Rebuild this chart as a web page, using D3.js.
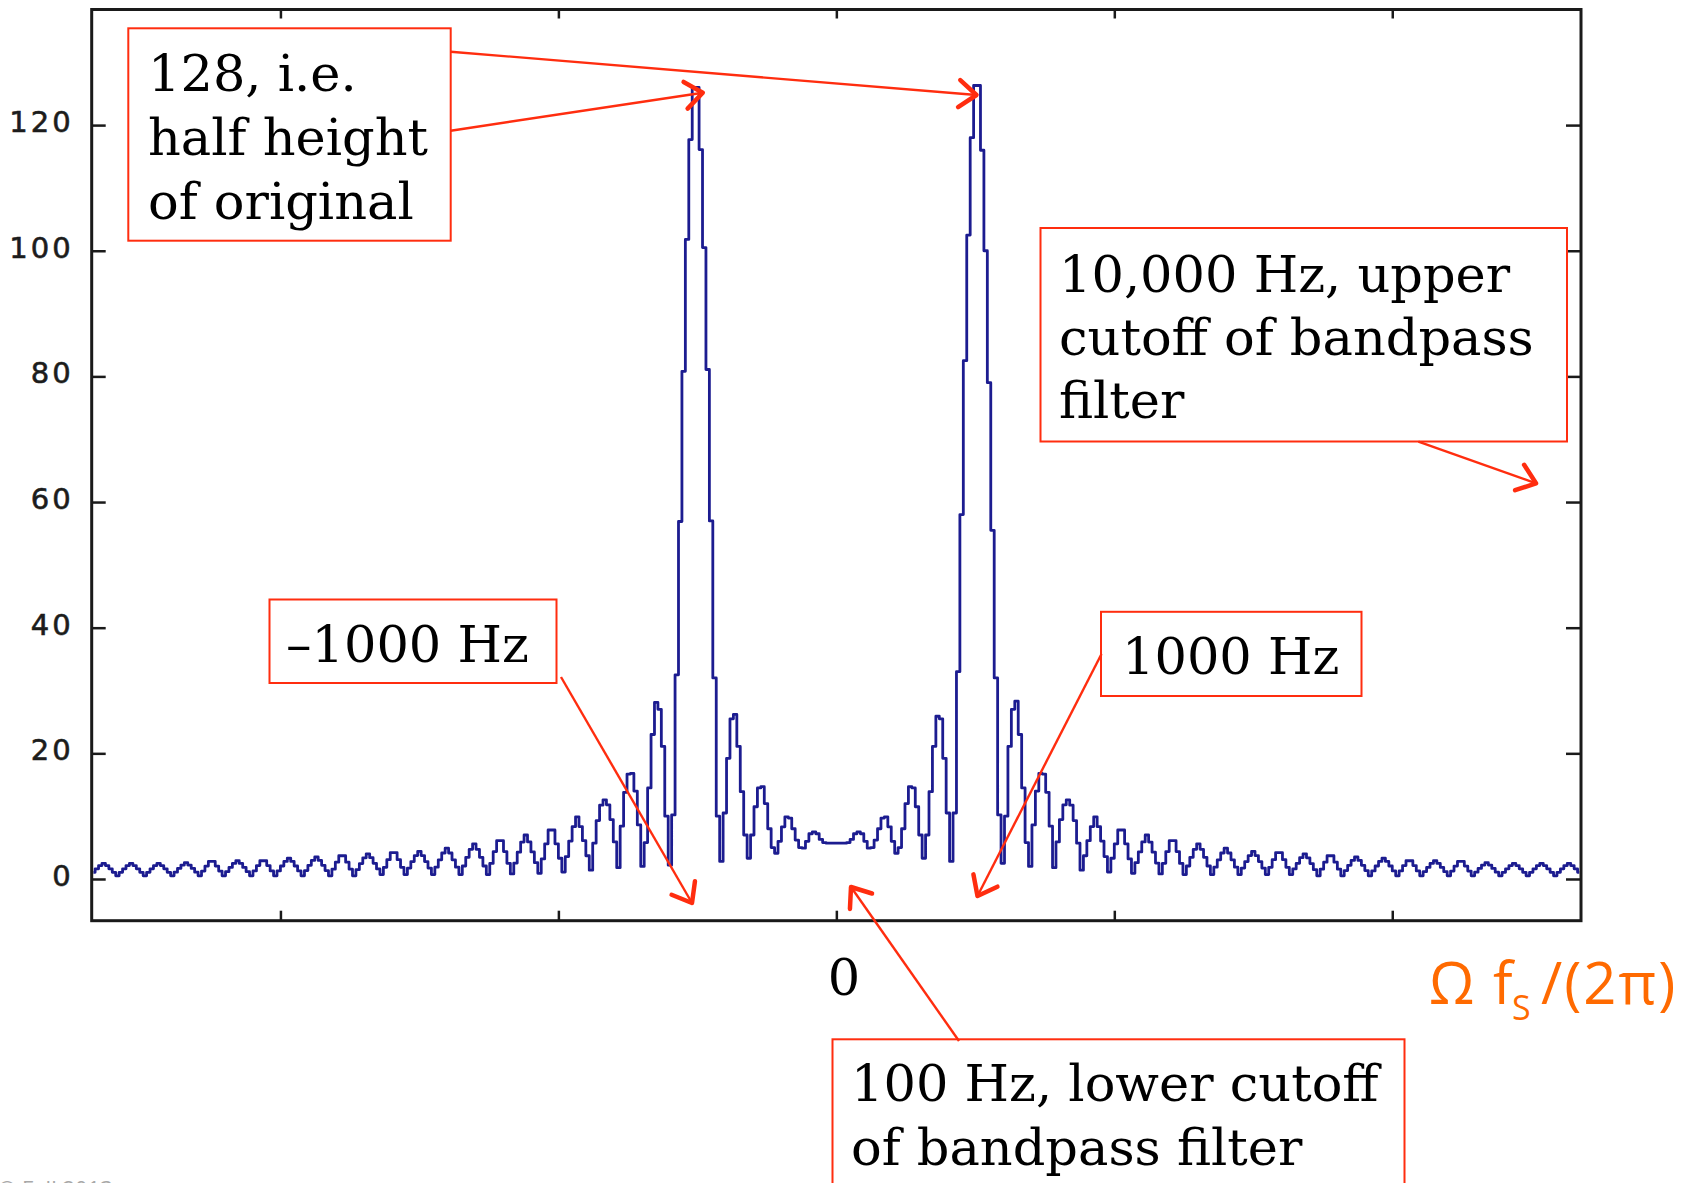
<!DOCTYPE html>
<html><head><meta charset="utf-8">
<script src="https://cdn.jsdelivr.net/npm/d3@7"></script>
<style>html,body{margin:0;padding:0;background:#fff;} svg{display:block;}</style>
</head><body>
<svg id="chart" width="1692" height="1183"></svg>
<script>
// ---- data (magnitude of the spectrum, one value per frequency bin) ----
const magnitude = [
 1.06,1.62,2.14,2.5,2.14,1.62,1.06,0.5,
 1.06,1.62,2.14,2.5,2.14,1.62,1.06,0.5,
 1.06,1.62,2.14,2.5,2.14,1.62,1.06,0.5,
 1.09,1.68,2.22,2.6,2.22,1.68,1.09,0.5,
 1.26,2.06,2.8,2.8,2.06,1.26,0.5,
 1.17,1.84,2.47,2.9,2.47,1.84,1.17,0.5,
 1.29,2.13,2.9,2.9,2.13,1.29,0.5,
 1.28,2.07,2.8,3.3,2.8,2.07,1.28,0.5,
 1.34,2.18,2.96,3.5,2.96,2.18,1.34,0.5,
 1.56,2.68,3.7,3.7,2.68,1.56,0.5,
 1.48,2.46,3.37,4.0,3.4,2.5,1.6,0.7,
 1.86,3.08,4.2,4.2,3.08,1.86,0.7,
 1.74,2.77,3.73,4.4,3.73,2.77,1.74,0.7,
 1.88,3.05,4.14,4.9,4.14,3.05,1.88,0.7,
 2.07,3.44,4.72,5.6,4.72,3.44,2.07,0.7,
 2.48,4.37,6.1,6.1,4.37,2.5,0.8,
 2.54,4.27,5.88,7.0,5.9,4.3,2.6,0.9,
 3.2,5.6,7.8,7.8,5.6,3.3,1.1,
 3.56,6.03,8.32,9.9,8.35,6.1,3.7,1.4,
 5.7,9.3,11.75,12.6,11.8,9.45,5.9,1.8,
 8.4,13.8,16.7,16.8,14.0,8.6,2.0,
 5.8,14.5,23.0,28.1,27.0,21.1,10.0,2.2,
 10.2,32.5,56.9,80.8,101.8,117.7,126,126,116.1,100.5,81.1,57,32,10,2.8,
 10.5,19.2,25.5,26.2,21.1,13.9,7.0,3.3,
 7.0,11.5,14.5,14.7,12.0,8.0,5.0,4.1,
 6.0,8.3,9.9,9.7,8.0,6.2,5.0,4.9,
 6.0,7.2,7.5,7.2,6.3,5.8,5.7,5.7,5.7,
 5.7,5.7,5.7,5.8,6.3,7.2,7.5,7.2,6.0,4.9,
 5.0,6.2,8.0,9.7,9.9,8.3,6.0,4.1,
 5.0,8.0,12.0,14.7,14.5,11.5,7.0,3.3,
 7.0,13.9,21.1,25.9,25.5,19.2,10.5,2.8,
 10.5,33,58,82.5,102.5,118,126.3,126.3,116,100,79,55.5,32,10.2,
 2.5,10.0,21.1,27.0,28.3,23.0,14.5,5.8,2.0,
 8.6,14.0,16.8,16.7,13.8,8.4,1.8,
 5.9,9.45,11.8,12.6,11.75,9.3,5.7,1.4,
 3.7,6.1,8.35,9.9,8.32,6.03,3.56,1.1,
 3.3,5.6,7.8,7.8,5.6,3.2,0.9,
 2.6,4.3,5.9,7.0,5.88,4.27,2.54,0.8,
 2.5,4.37,6.1,6.1,4.37,2.48,0.7,
 2.07,3.44,4.72,5.6,4.72,3.44,2.07,0.7,
 1.88,3.05,4.14,4.9,4.14,3.05,1.88,0.7,
 1.74,2.77,3.73,4.4,3.73,2.77,1.74,0.7,
 1.86,3.08,4.2,4.2,3.08,1.86,0.7,
 1.6,2.5,3.4,4.0,3.37,2.46,1.48,0.5,
 1.56,2.68,3.7,3.7,2.68,1.56,0.5,
 1.34,2.18,2.96,3.5,2.96,2.18,1.34,0.5,
 1.28,2.07,2.8,3.3,2.8,2.07,1.28,0.5,
 1.29,2.13,2.9,2.9,2.13,1.29,0.5,
 1.17,1.84,2.47,2.9,2.47,1.84,1.17,0.5,
 1.26,2.06,2.8,2.8,2.06,1.26,0.5,
 1.09,1.68,2.22,2.6,2.22,1.68,1.09,0.5,
 1.06,1.62,2.14,2.5,2.14,1.62,1.06,0.5,
 1.06,1.62,2.14,2.5,2.14,1.62,1.06,0.5,
 1.06,1.62,2.14,2.5,2.14,1.62,1.06
];
const binHz = 2000 / 81;                 // frequency spacing of the bins
const xDomain = [-5358, 5358];           // Hz shown
const yDomain = [-6.64, 138.4];
const xTicks = [-4000, -2000, 0, 2000, 4000];
const yTicks = [0, 20, 40, 60, 80, 100, 120];
const yTickLabels = ["0", "20", "40", "60", "80", "100", "120"];

// annotation texts
const noteTexts = [
  ["128, i.e.", "half height", "of original"],
  ["10,000 Hz, upper", "cutoff of bandpass", "filter"],
  ["\u20131000 Hz"],
  ["1000 Hz"],
  ["100 Hz, lower cutoff", "of bandpass filter"]
];
const zeroLabel = "0";
const axisTitle = { omega: "\u03A9", f: "f", sub: "S", rest: "/(2\u03C0)" };

// ---- layout ----
const W = 1692, H = 1183;
const plot = { left: 91.7, right: 1581, top: 9.5, bottom: 920.7 };
const RED = "#ff2d0f";
const BLUE = "#1c1c90";

const svg = d3.select("#chart");
svg.append("rect").attr("width", W).attr("height", H).attr("fill", "#fff");

const x = d3.scaleLinear().domain(xDomain).range([plot.left, plot.right]);
const y = d3.scaleLinear().domain(yDomain).range([plot.bottom, plot.top]);

const centre = (magnitude.length - 1) / 2;
const data = magnitude.map((v, i) => ({ f: (i - centre) * binHz, v }));

svg.append("clipPath").attr("id", "clip").append("rect")
  .attr("x", plot.left).attr("y", plot.top)
  .attr("width", plot.right - plot.left).attr("height", plot.bottom - plot.top);

svg.append("path").datum(data)
  .attr("clip-path", "url(#clip)")
  .attr("fill", "none").attr("stroke", BLUE).attr("stroke-width", 2.8)
  .attr("stroke-linejoin", "round")
  .attr("d", d3.line().x(d => x(d.f)).y(d => y(d.v)).curve(d3.curveStep));

// axes (MATLAB style box, ticks inside)
function styleAxis(g) {
  g.select(".domain").remove();
  g.selectAll(".tick line").attr("stroke", "#1a1a1a").attr("stroke-width", 2.5);
}
svg.append("g").attr("transform", `translate(${plot.left},0)`)
  .call(d3.axisLeft(y).tickValues(yTicks).tickSize(-14).tickPadding(18)
        .tickFormat((d, i) => yTickLabels[i]))
  .call(styleAxis)
  .call(g => g.selectAll("text")
     .attr("font-family", "DejaVu Sans").attr("font-size", 29)
     .attr("letter-spacing", 3).attr("fill", "#1c1c1c")
     .attr("stroke", "#1c1c1c").attr("stroke-width", 0.6)
     .attr("dy", "0.22em"));
svg.append("g").attr("transform", `translate(${plot.right},0)`)
  .call(d3.axisRight(y).tickValues(yTicks).tickSize(-15).tickFormat(""))
  .call(styleAxis);
svg.append("g").attr("transform", `translate(0,${plot.bottom})`)
  .call(d3.axisBottom(x).tickValues(xTicks).tickSize(-10).tickFormat(""))
  .call(styleAxis);
svg.append("g").attr("transform", `translate(0,${plot.top})`)
  .call(d3.axisTop(x).tickValues(xTicks).tickSize(-9).tickFormat(""))
  .call(styleAxis);

svg.append("rect")
  .attr("x", plot.left).attr("y", plot.top)
  .attr("width", plot.right - plot.left).attr("height", plot.bottom - plot.top)
  .attr("fill", "none").attr("stroke", "#1a1a1a").attr("stroke-width", 3);

// annotation boxes
const boxes = [
  { x: 128.3, y: 28.3, w: 322.4, h: 212.4, tx: 148, ty: [91, 155, 219] },
  { x: 1040.5, y: 228, w: 526.5, h: 213.5, tx: 1059, ty: [291.7, 355, 418.3] },
  { x: 269.5, y: 599.5, w: 287, h: 83.5, tx: 286, ty: [662] },
  { x: 1101, y: 611.8, w: 260.5, h: 84.2, tx: 1122, ty: [674] },
  { x: 832.5, y: 1039.3, w: 572, h: 200, tx: 851, ty: [1101, 1165] }
];
boxes.forEach((b, bi) => {
  svg.append("rect").attr("x", b.x).attr("y", b.y).attr("width", b.w).attr("height", b.h)
    .attr("fill", "#fff").attr("stroke", RED).attr("stroke-width", 2);
  noteTexts[bi].forEach((t, li) => {
    svg.append("text").attr("x", b.tx).attr("y", b.ty[li]).text(t)
      .attr("font-family", "DejaVu Serif").attr("font-size", 51).attr("fill", "#000");
  });
});

// arrows
const arrows = [
  { s: [450.7, 51.7], t: [976.5, 95] },
  { s: [450.7, 130.7], t: [702.8, 92.7] },
  { s: [1418.4, 441.7], t: [1536, 483.3] },
  { s: [561, 677], t: [692, 903] },
  { s: [1101.5, 654], t: [977.5, 896] },
  { s: [959, 1041], t: [851, 887] }
];
arrows.forEach(a => {
  svg.append("line").attr("x1", a.s[0]).attr("y1", a.s[1]).attr("x2", a.t[0]).attr("y2", a.t[1])
    .attr("stroke", RED).attr("stroke-width", 2.4);
  const ang = Math.atan2(a.t[1] - a.s[1], a.t[0] - a.s[0]) + Math.PI;
  const L = 22, spread = 0.66;
  const p1 = [a.t[0] + L * Math.cos(ang + spread), a.t[1] + L * Math.sin(ang + spread)];
  const p2 = [a.t[0] + L * Math.cos(ang - spread), a.t[1] + L * Math.sin(ang - spread)];
  svg.append("path").attr("d", `M${p1}L${a.t}L${p2}`)
    .attr("fill", "none").attr("stroke", RED).attr("stroke-width", 4.5)
    .attr("stroke-linecap", "round").attr("stroke-linejoin", "round");
});

// "0" label under axis
svg.append("text").attr("x", 844).attr("y", 995).attr("text-anchor", "middle")
  .attr("font-family", "DejaVu Serif").attr("font-size", 51).attr("fill", "#000").text(zeroLabel);

// orange axis title  Ω f_S /(2π)
const OR = "#ff6a00";
const tFont = "Open Sans";
svg.append("text").attr("x", 1429).attr("y", 1004).attr("font-family", tFont).attr("font-size", 58)
  .attr("fill", OR).text(axisTitle.omega);
svg.append("text").attr("x", 1493).attr("y", 1004).attr("font-family", tFont).attr("font-size", 58)
  .attr("fill", OR).text(axisTitle.f);
svg.append("text").attr("x", 1512).attr("y", 1020).attr("font-family", tFont).attr("font-size", 34)
  .attr("fill", OR).text(axisTitle.sub);
svg.append("text").attr("x", 1541).attr("y", 1004).attr("font-family", tFont).attr("font-size", 58)
  .attr("letter-spacing", 2).attr("fill", OR).text(axisTitle.rest);

// cropped footer text at the very bottom-left (cut by the picture edge, as in the original)
svg.append("text").attr("x", -2).attr("y", 1197).attr("font-family", "Open Sans").attr("font-size", 22)
  .attr("fill", "#a8a8a8").text("\u00A9 Fall 2013");
</script>
</body></html>
